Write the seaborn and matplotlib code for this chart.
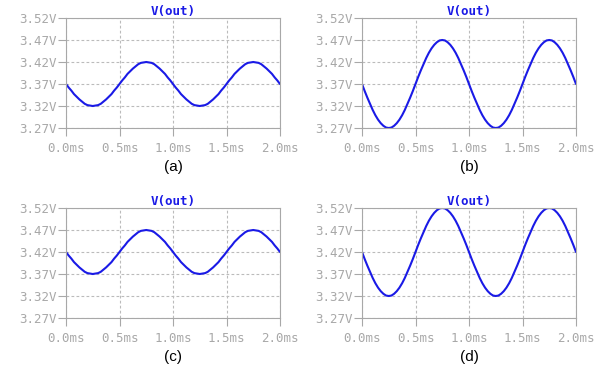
import pandas as pd
import seaborn as sns
import matplotlib.pyplot as plt

# time axis (ms) and V(out) samples
time_ms = [0.000, 0.025, 0.050, 0.075, 0.100, 0.125, 0.150, 0.175, 0.200, 0.225,
           0.250, 0.275, 0.300, 0.325, 0.350, 0.375, 0.400, 0.425, 0.450, 0.475,
           0.500, 0.525, 0.550, 0.575, 0.600, 0.625, 0.650, 0.675, 0.700, 0.725,
           0.750, 0.775, 0.800, 0.825, 0.850, 0.875, 0.900, 0.925, 0.950, 0.975,
           1.000, 1.025, 1.050, 1.075, 1.100, 1.125, 1.150, 1.175, 1.200, 1.225,
           1.250, 1.275, 1.300, 1.325, 1.350, 1.375, 1.400, 1.425, 1.450, 1.475,
           1.500, 1.525, 1.550, 1.575, 1.600, 1.625, 1.650, 1.675, 1.700, 1.725,
           1.750, 1.775, 1.800, 1.825, 1.850, 1.875, 1.900, 1.925, 1.950, 1.975,
           2.000]

vout_a = [3.370, 3.362, 3.355, 3.347, 3.341, 3.335, 3.330, 3.325, 3.322, 3.321,
          3.320, 3.321, 3.322, 3.325, 3.330, 3.335, 3.341, 3.347, 3.355, 3.362,
          3.370, 3.378, 3.385, 3.393, 3.399, 3.405, 3.410, 3.415, 3.418, 3.419,
          3.420, 3.419, 3.418, 3.415, 3.410, 3.405, 3.399, 3.393, 3.385, 3.378,
          3.370, 3.362, 3.355, 3.347, 3.341, 3.335, 3.330, 3.325, 3.322, 3.321,
          3.320, 3.321, 3.322, 3.325, 3.330, 3.335, 3.341, 3.347, 3.355, 3.362,
          3.370, 3.378, 3.385, 3.393, 3.399, 3.405, 3.410, 3.415, 3.418, 3.419,
          3.420, 3.419, 3.418, 3.415, 3.410, 3.405, 3.399, 3.393, 3.385, 3.378,
          3.370]

vout_b = [3.370, 3.354, 3.339, 3.325, 3.311, 3.299, 3.289, 3.281, 3.275, 3.271,
          3.270, 3.271, 3.275, 3.281, 3.289, 3.299, 3.311, 3.325, 3.339, 3.354,
          3.370, 3.386, 3.401, 3.415, 3.429, 3.441, 3.451, 3.459, 3.465, 3.469,
          3.470, 3.469, 3.465, 3.459, 3.451, 3.441, 3.429, 3.415, 3.401, 3.386,
          3.370, 3.354, 3.339, 3.325, 3.311, 3.299, 3.289, 3.281, 3.275, 3.271,
          3.270, 3.271, 3.275, 3.281, 3.289, 3.299, 3.311, 3.325, 3.339, 3.354,
          3.370, 3.386, 3.401, 3.415, 3.429, 3.441, 3.451, 3.459, 3.465, 3.469,
          3.470, 3.469, 3.465, 3.459, 3.451, 3.441, 3.429, 3.415, 3.401, 3.386,
          3.370]

vout_c = [3.420, 3.412, 3.405, 3.397, 3.391, 3.385, 3.380, 3.375, 3.372, 3.371,
          3.370, 3.371, 3.372, 3.375, 3.380, 3.385, 3.391, 3.397, 3.405, 3.412,
          3.420, 3.428, 3.435, 3.443, 3.449, 3.455, 3.460, 3.465, 3.468, 3.469,
          3.470, 3.469, 3.468, 3.465, 3.460, 3.455, 3.449, 3.443, 3.435, 3.428,
          3.420, 3.412, 3.405, 3.397, 3.391, 3.385, 3.380, 3.375, 3.372, 3.371,
          3.370, 3.371, 3.372, 3.375, 3.380, 3.385, 3.391, 3.397, 3.405, 3.412,
          3.420, 3.428, 3.435, 3.443, 3.449, 3.455, 3.460, 3.465, 3.468, 3.469,
          3.470, 3.469, 3.468, 3.465, 3.460, 3.455, 3.449, 3.443, 3.435, 3.428,
          3.420]

vout_d = [3.420, 3.404, 3.389, 3.375, 3.361, 3.349, 3.339, 3.331, 3.325, 3.321,
          3.320, 3.321, 3.325, 3.331, 3.339, 3.349, 3.361, 3.375, 3.389, 3.404,
          3.420, 3.436, 3.451, 3.465, 3.479, 3.491, 3.501, 3.509, 3.515, 3.519,
          3.520, 3.519, 3.515, 3.509, 3.501, 3.491, 3.479, 3.465, 3.451, 3.436,
          3.420, 3.404, 3.389, 3.375, 3.361, 3.349, 3.339, 3.331, 3.325, 3.321,
          3.320, 3.321, 3.325, 3.331, 3.339, 3.349, 3.361, 3.375, 3.389, 3.404,
          3.420, 3.436, 3.451, 3.465, 3.479, 3.491, 3.501, 3.509, 3.515, 3.519,
          3.520, 3.519, 3.515, 3.509, 3.501, 3.491, 3.479, 3.465, 3.451, 3.436,
          3.420]

panel_labels = ["(a)", "(b)", "(c)", "(d)"]
x_ticks = [0.0, 0.5, 1.0, 1.5, 2.0]
x_ticklabels = ["0.0ms", "0.5ms", "1.0ms", "1.5ms", "2.0ms"]
y_ticks = [3.27, 3.32, 3.37, 3.42, 3.47, 3.52]
y_ticklabels = ["3.27V", "3.32V", "3.37V", "3.42V", "3.47V", "3.52V"]

sns.set_style("white")
plt.rcParams["font.family"] = ["DejaVu Sans Mono"]

fig = plt.figure(figsize=(6, 3.76), dpi=100)

# axes boxes in pixel terms (left, top) of the 600x376 image
boxes = [(66, 18), (362, 18), (66, 208), (362, 208)]
w_px, h_px = 214, 110
series = [vout_a, vout_b, vout_c, vout_d]

grey = "#a8a8a8"
blue = "#1a1ae6"
for (left, top), vals, lab in zip(boxes, series, panel_labels):
    ax = fig.add_axes([left / 600, 1 - (top + h_px) / 376, w_px / 600, h_px / 376])
    df = pd.DataFrame({"t": time_ms, "v": vals})
    sns.lineplot(data=df, x="t", y="v", ax=ax, color=blue, linewidth=1.5)
    ax.set_xlim(0, 2.0)
    ax.set_ylim(3.27, 3.52)
    ax.set_xticks(x_ticks)
    ax.set_xticklabels(x_ticklabels)
    ax.set_yticks(y_ticks)
    ax.set_yticklabels(y_ticklabels)
    ax.set_xlabel("")
    ax.set_ylabel("")
    ax.tick_params(axis="both", colors=grey, labelcolor=grey, labelsize=9,
                   width=0.8, direction="out", left=True, bottom=True)
    ax.tick_params(axis="x", length=6, pad=4)
    ax.tick_params(axis="y", length=6, pad=0.5)
    ax.grid(True, color="#bbbbbb", linestyle=(0, (2.5, 2)), linewidth=0.8)
    for sp in ax.spines.values():
        sp.set_color(grey)
        sp.set_linewidth(0.8)
    ax.set_title("V(out)", color=blue, fontsize=9, fontweight="bold", pad=2)
    cx = (left + w_px / 2) / 600
    cy = 1 - (top + h_px + 39) / 376
    fig.text(cx, cy, lab, ha="center", va="center", fontsize=11,
             family=["Liberation Sans"], color="black")

fig.savefig("out.png", dpi=100, facecolor="white")
